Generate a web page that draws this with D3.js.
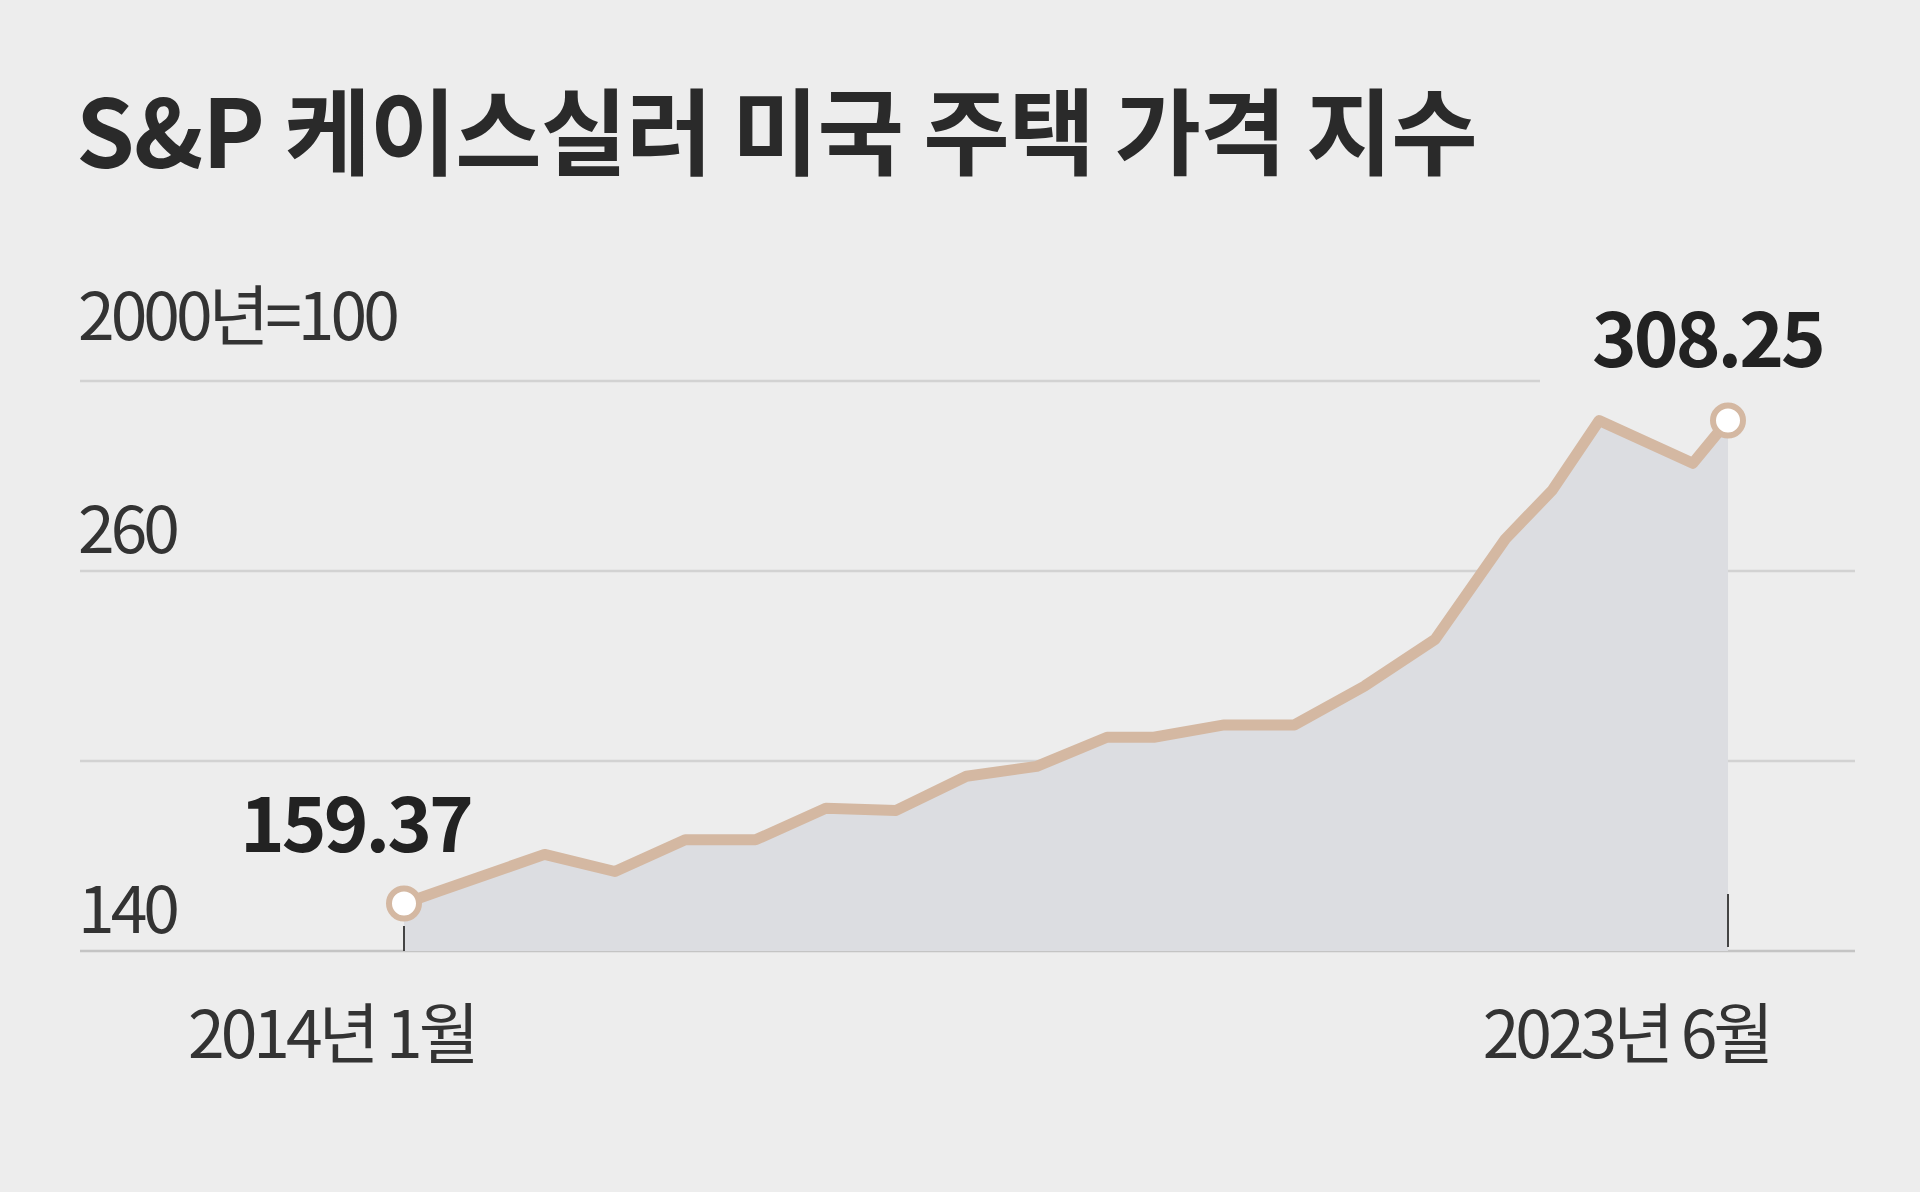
<!DOCTYPE html>
<html><head><meta charset="utf-8">
<script src="https://cdn.jsdelivr.net/npm/d3@7"></script>
<style>body{margin:0;background:#ededed}svg{display:block}</style>
</head><body>
<script>
const title = "S&P 케이스실러 미국 주택 가격 지수";
const unitLabel = "2000년=100";
const monthIndex = [0,3,12,18,24,30,36,42,48,54,60,64,70,76,82,88,94,98,102,110,113];
const values = [155.0,158.9,170.5,165.1,175.1,175.1,185.1,184.4,195.2,198.3,207.5,207.5,211.4,211.4,223.7,238.4,270.1,285.5,307.5,294.0,307.5];
const gridValues = [140,200,260,320];
const tickLabels = [{v:140,t:"140"},{v:260,t:"260"}];
const xLabels = ["2014년 1월","2023년 6월"];
const endLabels = ["159.37","308.25"];

const W=1920,H=1192;
const svg=d3.select("body").append("svg").attr("width",W).attr("height",H);
svg.append("rect").attr("width",W).attr("height",H).attr("fill","#ededed");
const x=d3.scaleLinear().domain([0,113]).range([404,1728]);
const y=d3.scaleLinear().domain([140,320]).range([951,381]);
const font="'Noto Sans CJK KR','Noto Sans',sans-serif";

svg.append("text").attr("x",76).attr("y",168).attr("font-family",font).attr("font-weight",700)
  .attr("font-size",94).attr("fill","#2a2a2a").attr("letter-spacing",-1).text(title);
svg.append("text").attr("x",78).attr("y",340).attr("font-family",font).attr("font-size",66)
  .attr("fill","#333").attr("letter-spacing",-4).text(unitLabel);

gridValues.forEach(v=>{
  svg.append("line").attr("x1",80).attr("x2",v===320?1540:1855).attr("y1",y(v)).attr("y2",y(v))
    .attr("stroke",v===140?"#c4c4c4":"#d2d2d2").attr("stroke-width",2.5);
});
tickLabels.forEach(d=>{
  svg.append("text").attr("x",78).attr("y",y(d.v)-18).attr("font-family",font).attr("font-size",66)
    .attr("fill","#333").attr("letter-spacing",-4).text(d.t);
});
const data=monthIndex.map((m,i)=>({m,v:values[i]}));
svg.append("path").datum(data).attr("fill","#dcdde1")
  .attr("d",d3.area().x(d=>x(d.m)).y0(y(140)).y1(d=>y(d.v)));
svg.append("line").attr("x1",x(0)).attr("x2",x(0)).attr("y1",y(140)-25).attr("y2",y(140)).attr("stroke","#444").attr("stroke-width",2);
svg.append("line").attr("x1",x(113)).attr("x2",x(113)).attr("y1",894).attr("y2",947).attr("stroke","#444").attr("stroke-width",2);
svg.append("path").datum(data).attr("fill","none").attr("stroke","#d4b8a2").attr("stroke-width",11)
  .attr("stroke-linejoin","round").attr("d",d3.line().x(d=>x(d.m)).y(d=>y(d.v)));
[data[0],data[data.length-1]].forEach(d=>{
  svg.append("circle").attr("cx",x(d.m)).attr("cy",y(d.v)).attr("r",15).attr("fill","#fff")
    .attr("stroke","#d4b8a2").attr("stroke-width",6);
});
svg.append("text").attr("x",240).attr("y",852).attr("font-family",font).attr("font-weight",700)
  .attr("font-size",76).attr("fill","#222").attr("letter-spacing",-3).text(endLabels[0]);
svg.append("text").attr("x",1592).attr("y",367).attr("font-family",font).attr("font-weight",700)
  .attr("font-size",76).attr("fill","#222").attr("letter-spacing",-3).text(endLabels[1]);
svg.append("text").attr("x",188).attr("y",1058).attr("font-family",font).attr("font-size",66)
  .attr("fill","#333").attr("letter-spacing",-4).text(xLabels[0]);
svg.append("text").attr("x",1770).attr("y",1058).attr("text-anchor","end").attr("font-family",font).attr("font-size",66)
  .attr("fill","#333").attr("letter-spacing",-4).text(xLabels[1]);
</script>
</body></html>
